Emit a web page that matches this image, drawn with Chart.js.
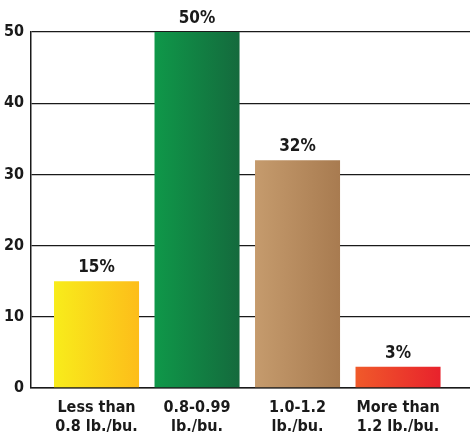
<!DOCTYPE html>
<html>
<head>
<meta charset="utf-8">
<script src="https://cdn.jsdelivr.net/npm/chart.js@4.4.0/dist/chart.umd.min.js"></script>
<style>
  html, body { margin: 0; padding: 0; background: #fff; }
  #wrap { width: 470px; height: 440px; }
</style>
</head>
<body>
<div id="wrap"><canvas id="bushelChart"></canvas></div>
<script>
const categories = [['Less than', '0.8 lb./bu.'], ['0.8-0.99', 'lb./bu.'], ['1.0-1.2', 'lb./bu.'], ['More than', '1.2 lb./bu.']];
const shares = [15, 50, 32, 3];
const yTicks = [0, 10, 20, 30, 40, 50];
const gradientStops = [
  ['#f8ec1b', '#fdbd1a'],
  ['#0f9849', '#146a3d'],
  ['#c59b6d', '#a87b50'],
  ['#f05a2a', '#e8222c']
];

const FONT = "'Liberation Sans Narrow', 'DejaVu Sans Condensed', 'Roboto Condensed', sans-serif";
const BAR_PCT = 0.846;

const barFill = (ctx) => {
  const chart = ctx.chart;
  const x = chart.scales && chart.scales.x;
  const i = ctx.dataIndex;
  if (!x || !chart.chartArea || i === undefined) return gradientStops[0][0];
  const step = x.getPixelForValue(1) - x.getPixelForValue(0);
  const cx = x.getPixelForValue(i);
  const half = step * BAR_PCT / 2;
  const g = chart.ctx.createLinearGradient(cx - half, 0, cx + half, 0);
  g.addColorStop(0, gradientStops[i][0]);
  g.addColorStop(1, gradientStops[i][1]);
  return g;
};

// percentage labels above each bar
const valueLabels = {
  id: 'valueLabels',
  afterDatasetsDraw(chart) {
    const { ctx } = chart;
    const meta = chart.getDatasetMeta(0);
    ctx.save();
    ctx.font = 'bold 17px ' + FONT;
    ctx.fillStyle = '#1a1a1a';
    ctx.textAlign = 'center';
    ctx.textBaseline = 'bottom';
    meta.data.forEach((bar, i) => {
      ctx.fillText(shares[i] + '%', bar.x, bar.y - 5);
    });
    ctx.restore();
  }
};

const data = {
  datasets: [{
    data: shares.map((v, i) => ({ x: i, y: v })),
    backgroundColor: barFill,
    borderWidth: 0,
    barPercentage: BAR_PCT,
    categoryPercentage: 1
  }]
};

const options = {
  responsive: true,
  maintainAspectRatio: false,
  animation: false,
  layout: { padding: { top: 32, right: 0, bottom: 0, left: 0 } },
  plugins: {
    legend: { display: false },
    tooltip: { enabled: false }
  },
  scales: {
    x: {
      type: 'linear',
      min: -0.652,
      max: 3.716,
      offset: false,
      afterFit(scale) {
        scale.height = 52;
        scale.paddingLeft = 0;
        scale.paddingRight = 0;
      },
      afterBuildTicks(scale) {
        scale.ticks = categories.map((c, i) => ({ value: i }));
      },
      grid: { display: false, offset: false },
      border: { display: true, color: '#1a1a1a', width: 1.5 },
      ticks: {
        padding: 2,
        color: '#1a1a1a',
        font: { family: FONT, size: 16, weight: 'bold', lineHeight: 1.2 },
        maxRotation: 0,
        autoSkip: false,
        callback: (v) => categories[v] || ''
      }
    },
    y: {
      min: 0,
      max: 50,
      afterFit(scale) { scale.width = 31; },
      afterBuildTicks(scale) {
        scale.ticks = yTicks.map(v => ({ value: v }));
      },
      grid: { color: '#1a1a1a', lineWidth: 1.3, drawTicks: false },
      border: { display: true, color: '#1a1a1a', width: 1.5 },
      ticks: {
        padding: 7,
        color: '#1a1a1a',
        font: { family: FONT, size: 16, weight: 'bold' }
      }
    }
  }
};

new Chart(document.getElementById('bushelChart'), {
  type: 'bar',
  data,
  options,
  plugins: [valueLabels]
});
</script>
</body>
</html>
